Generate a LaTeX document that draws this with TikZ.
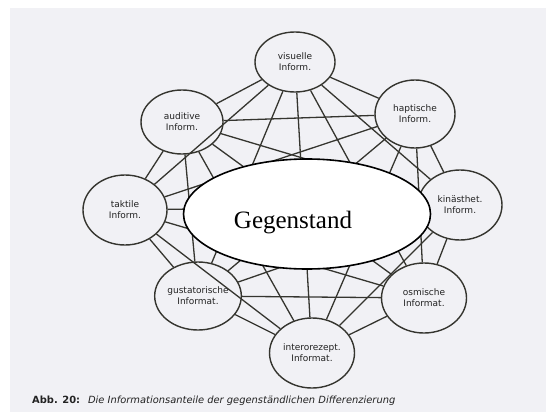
\documentclass[tikz,border=0pt]{standalone}
\usepackage{fontspec}
\setmainfont{Liberation Serif}
\newfontfamily\labfont{DejaVu Sans}
\usetikzlibrary{shapes.geometric}
\definecolor{bgc}{HTML}{F1F1F5}
\definecolor{edgec}{HTML}{35352F}
\definecolor{textc}{HTML}{222222}
\tikzset{
  sense/.style={ellipse, draw=edgec, line width=1.4pt, inner sep=0pt,
    align=center, text=textc, font=\labfont\fontsize{9}{11}\selectfont},
  link/.style={draw=edgec, line width=1.3pt},
  center/.style={ellipse, draw=black, fill=white, line width=1.6pt, inner sep=0pt}
}
\begin{document}
\begin{tikzpicture}[x=1pt,y=-1pt]
\useasboundingbox (0,0) rectangle (546,412);
\fill[bgc] (0,0) rectangle (546,412);
\fill[white] (0,0) rectangle (546,8);
\fill[white] (0,0) rectangle (10,412);

\node[sense, minimum width=80pt, minimum height=60pt] (vis) at (295,62) {visuelle\\Inform.};
\node[sense, minimum width=82pt, minimum height=64pt] (aud) at (182,122) {auditive\\Inform.};
\node[sense, minimum width=80pt, minimum height=68pt] (hap) at (415,114) {haptische\\Inform.};
\node[sense, minimum width=84pt, minimum height=70pt] (tak) at (125,210) {taktile\\Inform.};
\node[sense, minimum width=84pt, minimum height=70pt] (kin) at (460,205) {kinästhet.\\Inform.};
\node[sense, minimum width=84pt, minimum height=68pt] (gus) at (198,296) {gustatorische\\Informat.};
\node[sense, minimum width=85pt, minimum height=70pt] (osm) at (424,298) {osmische\\Informat.};
\node[sense, minimum width=85pt, minimum height=70pt] (int) at (312,353) {interorezept.\\Informat.};

\foreach \a/\b in {vis/aud,vis/hap,vis/tak,vis/kin,vis/gus,vis/osm,vis/int,
  aud/hap,aud/tak,aud/kin,aud/gus,aud/osm,aud/int,
  hap/tak,hap/kin,hap/gus,hap/osm,hap/int,
  tak/kin,tak/gus,tak/osm,tak/int,
  kin/gus,kin/osm,kin/int,
  gus/osm,gus/int,
  osm/int}
  \draw[link] (\a) -- (\b);

\node[center, minimum width=247pt, minimum height=110pt] (gegen) at (307,214) {};
\node[font=\fontsize{25}{30}\selectfont, inner sep=0pt] (gtxt) at (293,223) {Gegenstand};

\node[anchor=base west, inner sep=0pt, text=textc, font=\labfont\fontsize{9.9}{12}\selectfont] (cap) at (32,403)
  {\textbf{Abb. 20:}\hspace{0.8em}\textit{Die Informationsanteile der gegenständlichen Differenzierung}};
\end{tikzpicture}
\end{document}
